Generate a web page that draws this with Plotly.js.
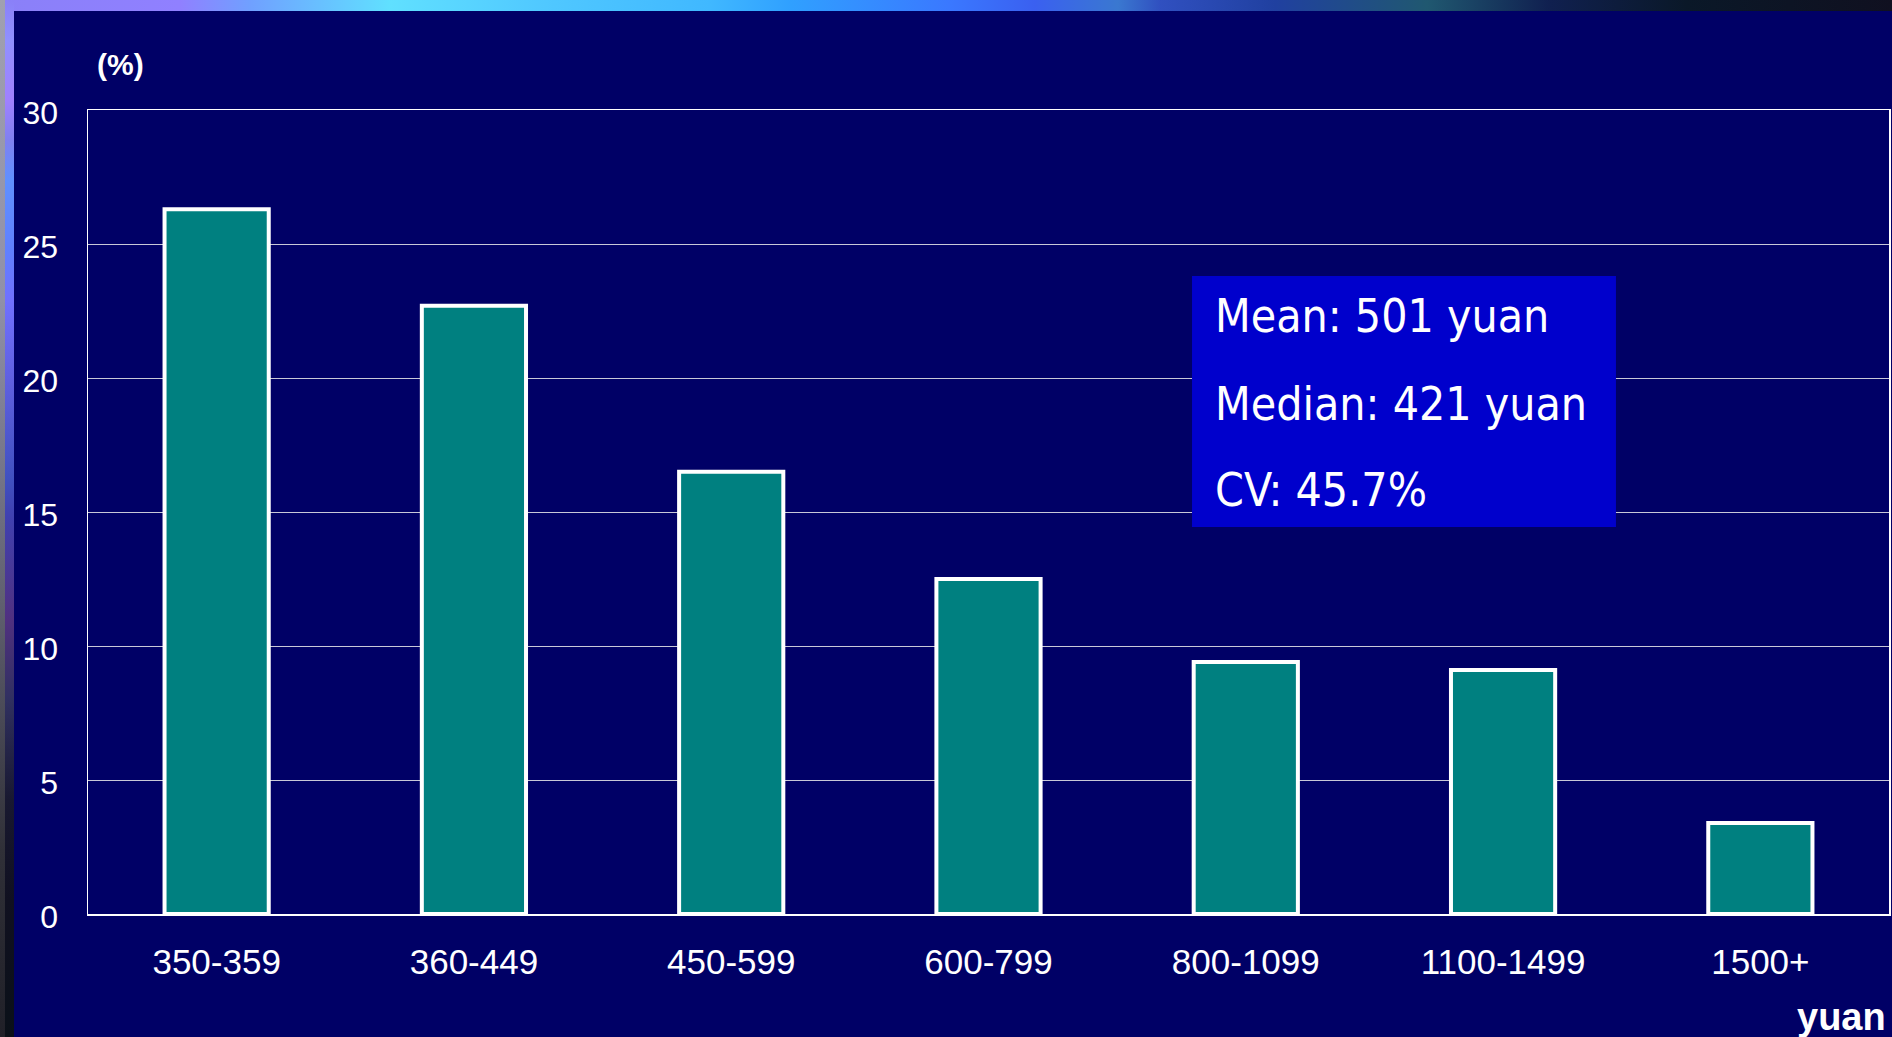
<!DOCTYPE html>
<html>
<head>
<meta charset="utf-8">
<script src="https://cdn.plot.ly/plotly-3.0.1.min.js"></script>
<style>
  html, body { margin: 0; padding: 0; background: #000066; overflow: hidden; }
  #wrap { position: relative; width: 1892px; height: 1037px; background: #000066; }
  #topstrip { position: absolute; left: 0; top: 0; width: 1892px; height: 11px;
    background: linear-gradient(to right, #8a80f8 0px, #9080ff 180px, #70a0ff 250px, #60e0ff 390px,
      #50c8ff 545px, #40b8ff 710px, #30a0ff 790px, #3a78ff 950px, #3a60f0 1035px, #3a78d0 1118px,
      #3050c0 1160px, #2040a0 1275px, #205870 1427px, #102050 1548px, #0a1828 1687px, #101020 1892px); }
  #leftgray { position: absolute; left: 0; top: 0; width: 5px; height: 1037px;
    background: linear-gradient(to bottom, #a0a0b0 0px, #9090a8 300px, #606070 600px, #303038 850px, #202028 1037px); }
  #leftstrip { position: absolute; left: 5px; top: 0; width: 9px; height: 1037px;
    background: linear-gradient(to bottom, #8a80f8 0px, #9090ff 40px, #a080ff 100px, #8080f0 140px, #6090ff 180px,
      #6080ff 250px, #7070ff 300px, #6060e0 380px, #4050c0 480px, #4040b0 517px, #503080 620px,
      #303060 700px, #181830 800px, #101020 900px, #0a1018 1037px); }
  #chart { position: absolute; left: 0; top: 0; width: 1892px; height: 1037px; }
</style>
</head>
<body>
<div id="wrap">
  <div id="topstrip"></div>
  <div id="leftgray"></div>
  <div id="leftstrip"></div>
  <div id="chart"></div>
</div>
<script>
const categories = ["350-359", "360-449", "450-599", "600-799", "800-1099", "1100-1499", "1500+"];
const shares = [26.3, 22.7, 16.5, 12.5, 9.4, 9.1, 3.4];
const yTicks = [0, 5, 10, 15, 20, 25, 30];
const statLines = ["Mean: 501 yuan", "Median: 421 yuan", "CV: 45.7%"];
const yUnit = "(%)";
const xUnit = "yuan";

const tickFont = { family: "Liberation Sans, Arial, sans-serif", color: "#ffffff" };
const boxFont = { family: "DejaVu Sans Condensed, DejaVu Sans, sans-serif", size: 46, color: "#ffffff" };

const trace = {
  type: "bar",
  x: categories,
  y: shares,
  marker: { color: "#008080", line: { color: "#ffffff", width: 4 } },
  hoverinfo: "skip"
};

const statY = [0.7438, 0.6343, 0.5274];
const annotations = statLines.map((t, i) => ({
  xref: "paper", yref: "paper", x: 0.6246, y: statY[i],
  xanchor: "left", yanchor: "middle", showarrow: false,
  text: t, font: boxFont
}));
annotations.push({
  xref: "paper", yref: "paper", x: 0.0183, y: 1.056,
  xanchor: "center", yanchor: "middle", showarrow: false,
  text: "<b>" + yUnit + "</b>",
  font: { family: "Liberation Sans, Arial, sans-serif", size: 30, color: "#ffffff" }
});
annotations.push({
  xref: "paper", yref: "paper", x: 0.9994, y: -0.128,
  xanchor: "right", yanchor: "middle", showarrow: false,
  text: "<b>" + xUnit + "</b>",
  font: { family: "Liberation Sans, Arial, sans-serif", size: 38, color: "#ffffff" }
});

const layout = {
  width: 1892, height: 1037,
  margin: { l: 88, r: 3, t: 110, b: 123, pad: 0 },
  paper_bgcolor: "rgba(0,0,0,0)",
  plot_bgcolor: "rgba(0,0,0,0)",
  showlegend: false,
  bargap: 0.595,
  xaxis: {
    type: "category",
    range: [-0.5, categories.length - 0.5],
    showgrid: false,
    showline: true, mirror: true, linecolor: "#ffffff", linewidth: 1.5,
    ticks: "", ticklabelstandoff: 16,
    tickfont: Object.assign({ size: 35 }, tickFont),
    zeroline: false, fixedrange: true
  },
  yaxis: {
    range: [0, 30],
    tickvals: yTicks,
    ticktext: yTicks.map(String),
    showgrid: true, gridcolor: "#c8c8d8", gridwidth: 1,
    showline: true, mirror: true, linecolor: "#ffffff", linewidth: 1.5,
    ticks: "", ticklabelstandoff: 22, ticklabelshift: 3,
    tickfont: Object.assign({ size: 32 }, tickFont),
    zeroline: false, fixedrange: true
  },
  shapes: [{
    type: "rect", xref: "paper", yref: "paper",
    x0: 0.6130, x1: 0.8484, y0: 0.4813, y1: 0.7935,
    fillcolor: "#0000cc", line: { width: 0 }, layer: "above"
  }],
  annotations: annotations
};

Plotly.newPlot("chart", [trace], layout, { displayModeBar: false, staticPlot: true });
</script>
</body>
</html>
